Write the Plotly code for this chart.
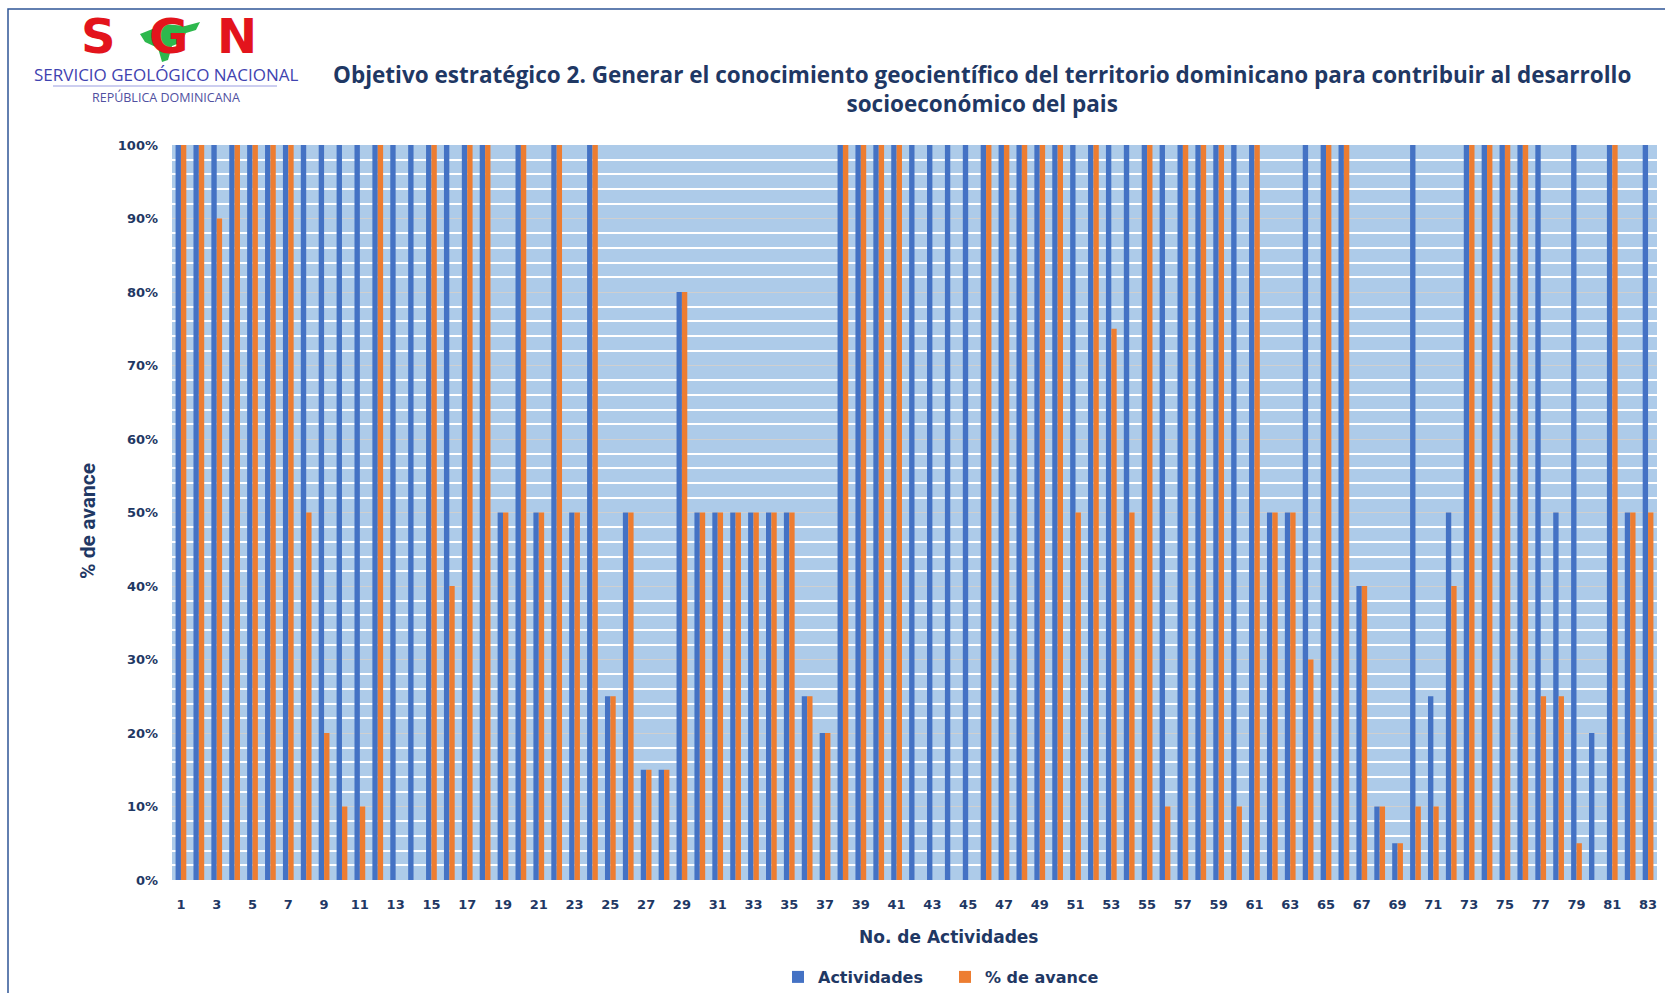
import plotly.graph_objects as go

W, H = 1665, 993
L, R, T, B = 172, 8, 145, 113

categories = [str(i) for i in [1, 2, 3, 4, 5, 6, 7, 8, 9, 10, 11, 12, 13, 14, 15, 16, 17, 18, 19, 20,
              21, 22, 23, 24, 25, 26, 27, 28, 29, 30, 31, 32, 33, 34, 35, 36, 37, 38, 39, 40,
              41, 42, 43, 44, 45, 46, 47, 48, 49, 50, 51, 52, 53, 54, 55, 56, 57, 58, 59, 60,
              61, 62, 63, 64, 65, 66, 67, 68, 69, 70, 71, 72, 73, 74, 75, 76, 77, 78, 79, 80,
              81, 82, 83]]

actividades = [100, 100, 100, 100, 100, 100, 100, 100, 100, 100,
               100, 100, 100, 100, 100, 100, 100, 100, 50, 100,
               50, 100, 50, 100, 25, 50, 15, 15, 80, 50,
               50, 50, 50, 50, 50, 25, 20, 100, 100, 100,
               100, 100, 100, 100, 100, 100, 100, 100, 100, 100,
               100, 100, 100, 100, 100, 100, 100, 100, 100, 100,
               100, 50, 50, 100, 100, 100, 40, 10, 5, 100,
               25, 50, 100, 100, 100, 100, 100, 50, 100, 20,
               100, 50, 100]

avance = [100, 100, 90, 100, 100, 100, 100, 50, 20, 10,
          10, 100, 0, 0, 100, 40, 100, 100, 50, 100,
          50, 100, 50, 100, 25, 50, 15, 15, 80, 50,
          50, 50, 50, 50, 50, 25, 20, 100, 100, 100,
          100, 0, 0, 0, 0, 100, 100, 100, 100, 100,
          50, 100, 75, 50, 100, 10, 100, 100, 100, 10,
          100, 50, 50, 30, 100, 100, 40, 10, 5, 10,
          10, 40, 100, 100, 100, 100, 25, 25, 5, 0,
          100, 50, 50]

tick_labels = ["1", "3", "5", "7", "9", "11", "13", "15", "17", "19", "21", "23", "25", "27",
               "29", "31", "33", "35", "37", "39", "41", "43", "45", "47", "49", "51", "53",
               "55", "57", "59", "61", "63", "65", "67", "69", "71", "73", "75", "77", "79",
               "81", "83"]

title_1 = "Objetivo estratégico 2. Generar el conocimiento geocientífico del territorio dominicano para contribuir al desarrollo"
title_2 = "socioeconómico del pais"
x_title = "No. de Actividades"
y_title = "% de avance"

NAVY = "#1F3864"
BLUE = "#4472C4"
ORANGE = "#ED7D31"

pw = W - L - R
ph = H - T - B


def px_x(x):
    return (x - L) / pw


def px_y(y):
    return (H - B - y) / ph


fig = go.Figure()
fig.add_trace(go.Bar(x=categories, y=actividades, name="Actividades",
                     marker=dict(color=BLUE, line=dict(width=0))))
fig.add_trace(go.Bar(x=categories, y=avance, name="% de avance",
                     marker=dict(color=ORANGE, line=dict(width=0))))

tick_font = dict(family="DejaVu Sans", size=13, color=NAVY, weight="bold")

fig.update_layout(
    width=W, height=H,
    margin=dict(l=L, r=R, t=T, b=B, pad=0, autoexpand=False),
    paper_bgcolor="white",
    plot_bgcolor="#ADCBE9",
    barmode="group",
    bargap=0.4,
    bargroupgap=0,
    showlegend=True,
    legend=dict(orientation="h", x=px_x(778), y=px_y(977), xanchor="left", yanchor="middle",
                font=dict(family="DejaVu Sans", size=16, color=NAVY, weight="bold"),
                itemwidth=30, tracegroupgap=0, entrywidth=122, entrywidthmode="pixels"),
    xaxis=dict(type="category", tickmode="array", tickvals=tick_labels, ticktext=tick_labels,
               tickfont=tick_font, showgrid=False, zeroline=False, showline=False,
               ticks="", ticklen=0, range=[-0.5, 82.5], ticklabelstandoff=15,
               ticklabeloverflow="allow", automargin=False),
    yaxis=dict(range=[0, 100], dtick=10, ticksuffix="%", tickfont=tick_font,
               showgrid=True, gridcolor="#CFCFCF", gridwidth=1,
               minor=dict(dtick=2, showgrid=True, gridcolor="#FFFFFF", gridwidth=1.5),
               zeroline=False, showline=False, ticks="", ticklabelstandoff=13,
               automargin=False),
    font=dict(family="DejaVu Sans", color=NAVY),
)

ann = [
    dict(text=title_1 + "<br>" + title_2, x=px_x(982), y=px_y(89.5), xref="paper", yref="paper",
         showarrow=False, xanchor="center", yanchor="middle", align="center",
         font=dict(family="Open Sans", size=22.5, color=NAVY, weight="bold")),
    dict(text=y_title, x=px_x(88), y=px_y(521), xref="paper", yref="paper",
         showarrow=False, xanchor="center", yanchor="middle", textangle=-90,
         font=dict(family="Roboto", size=21, color=NAVY, weight="bold")),
    dict(text=x_title, x=px_x(948), y=px_y(937), xref="paper", yref="paper",
         showarrow=False, xanchor="center", yanchor="middle",
         font=dict(family="DejaVu Sans", size=17, color=NAVY, weight="bold")),
    dict(text="S", x=px_x(98), y=px_y(36), xref="paper", yref="paper",
         showarrow=False, xanchor="center", yanchor="middle",
         font=dict(family="DejaVu Sans", size=48, color="#E3141C", weight="bold")),
    dict(text="G", x=px_x(168), y=px_y(36), xref="paper", yref="paper",
         showarrow=False, xanchor="center", yanchor="middle",
         font=dict(family="DejaVu Sans", size=48, color="#E3141C", weight="bold")),
    dict(text="N", x=px_x(237), y=px_y(36), xref="paper", yref="paper",
         showarrow=False, xanchor="center", yanchor="middle",
         font=dict(family="DejaVu Sans", size=48, color="#E3141C", weight="bold")),
    dict(text="SERVICIO GEOLÓGICO NACIONAL", x=px_x(166), y=px_y(75), xref="paper", yref="paper",
         showarrow=False, xanchor="center", yanchor="middle",
         font=dict(family="Open Sans", size=17, color="#3F43B0")),
    dict(text="REPÚBLICA DOMINICANA", x=px_x(166), y=px_y(98), xref="paper", yref="paper",
         showarrow=False, xanchor="center", yanchor="middle",
         font=dict(family="Open Sans", size=12.5, color="#5050A0")),
]
fig.update_layout(annotations=ann)

island = [(150, 30), (165, 24), (185, 26), (200, 22), (196, 30), (186, 33), (182, 42),
          (172, 46), (168, 60), (162, 62), (158, 48), (145, 42), (140, 34)]
island_path = "M " + " L ".join("{:.5f} {:.5f}".format(px_x(a), px_y(b)) for a, b in island) + " Z"

shapes = [
    dict(type="rect", xref="paper", yref="paper",
         x0=px_x(8), x1=px_x(W + 20), y0=px_y(H + 20), y1=px_y(9),
         line=dict(color="#2F5597", width=1.5), fillcolor="rgba(0,0,0,0)", layer="below"),
    dict(type="line", xref="paper", yref="paper",
         x0=px_x(53), x1=px_x(277), y0=px_y(86), y1=px_y(86),
         line=dict(color="#9A9DE0", width=1)),
    dict(type="path", xref="paper", yref="paper", path=island_path,
         fillcolor="#2DB84D", line=dict(width=0)),
]
fig.update_layout(shapes=shapes)

fig.write_html("out.html", config={"displayModeBar": False},
               post_script="document.body.style.margin='0px';document.body.style.overflow='hidden';")
